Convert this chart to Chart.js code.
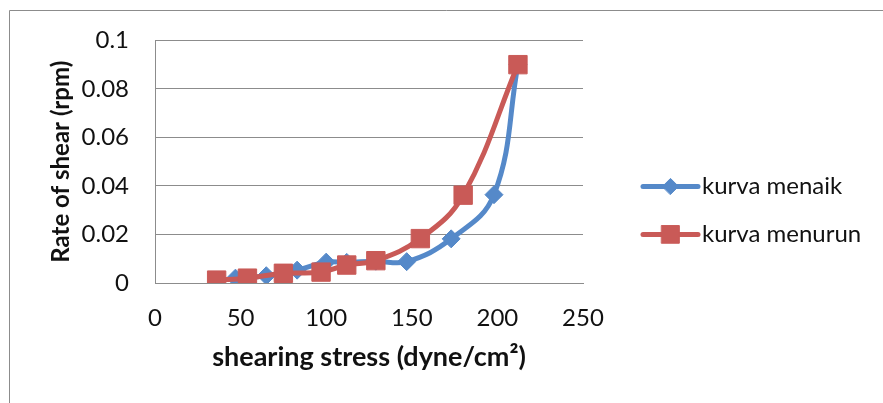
<!DOCTYPE html>
<html>
<head>
<meta charset="utf-8">
<title>Rate of shear vs shearing stress</title>
<script src="https://cdn.jsdelivr.net/npm/chart.js@4.4.1/dist/chart.umd.min.js"></script>
<style>
  html, body { margin: 0; padding: 0; background: #fff; }
  #wrap { width: 883px; height: 403px; }
</style>
</head>
<body>
<div id="wrap"><canvas id="chart" width="883" height="403"></canvas></div>
<script>
(function () {
  'use strict';

  // kurva menaik: shearing stress (dyne/cm2) and rate of shear (rpm)
  const STRESS_UP = [47, 65, 83, 100, 112, 129, 147, 173, 198, 212];
  const RATE_UP = [0.002, 0.003, 0.0053, 0.0086, 0.0085, 0.009, 0.0088, 0.0182, 0.0364, 0.09];

  // kurva menurun
  const STRESS_DOWN = [36, 54, 75, 97, 112, 129, 155, 180, 212];
  const RATE_DOWN = [0.0012, 0.002, 0.004, 0.0045, 0.0074, 0.0092, 0.0183, 0.0362, 0.09];

  const X_TICKS = [0, 50, 100, 150, 200, 250];
  const Y_TICKS = ['0', '0.02', '0.04', '0.06', '0.08', '0.1'];
  const SERIES_LABELS = ['kurva menaik', 'kurva menurun'];

  const BLUE = '#5589C9';
  const RED = '#C95A57';
  const AXIS_GREY = '#8c8c8c';
  const TEXT = '#111111';
  const FONT_FAMILY = 'Lato, "Open Sans", sans-serif';

  function toPoints(xs, ys) {
    return xs.map((x, i) => ({ x, y: ys[i] }));
  }

  // white page plus the left/top edge of the chart object frame
  const framePlugin = {
    id: 'frame',
    beforeDraw(chart) {
      const ctx = chart.ctx;
      ctx.save();
      ctx.fillStyle = '#ffffff';
      ctx.fillRect(0, 0, chart.width, chart.height);
      ctx.strokeStyle = AXIS_GREY;
      ctx.lineWidth = 1;
      ctx.beginPath();
      ctx.moveTo(9.5, chart.height);
      ctx.lineTo(9.5, 10.5);
      ctx.lineTo(chart.width, 10.5);
      ctx.stroke();
      ctx.restore();
    },
  };

  // legend on the right: short line with its marker, then the label
  const sideLegend = {
    id: 'sideLegend',
    afterDraw(chart) {
      const { ctx, chartArea } = chart;
      const x0 = chartArea.right + 60;
      const x1 = x0 + 55;
      chart.data.datasets.forEach((ds, row) => {
        const y = chartArea.top + 146 + row * 48;
        ctx.save();
        ctx.strokeStyle = ds.borderColor;
        ctx.lineWidth = ds.borderWidth;
        ctx.lineCap = 'round';
        ctx.beginPath();
        ctx.moveTo(x0, y);
        ctx.lineTo(x1, y);
        ctx.stroke();
        ctx.fillStyle = ds.pointBackgroundColor;
        ctx.strokeStyle = ds.pointBorderColor;
        ctx.lineWidth = 1;
        Chart.helpers.drawPoint(ctx, {
          pointStyle: ds.pointStyle,
          radius: ds.pointStyle === 'rect' ? 12.5 : 8,
          rotation: 0,
          borderWidth: 1,
        }, (x0 + x1) / 2, y);
        ctx.fillStyle = TEXT;
        ctx.font = '24px ' + FONT_FAMILY;
        ctx.textBaseline = 'middle';
        ctx.textAlign = 'left';
        ctx.fillText(ds.label, x1 + 4, y);
        ctx.restore();
      });
    },
  };

  const ctx = document.getElementById('chart').getContext('2d');
  new Chart(ctx, {
    type: 'line',
    data: {
      datasets: [
        {
          label: SERIES_LABELS[0],
          data: toPoints(STRESS_UP, RATE_UP),
          borderColor: BLUE,
          backgroundColor: BLUE,
          borderWidth: 5,
          tension: 0.4,
          pointStyle: 'rectRot',
          pointRadius: 9,
          pointBorderWidth: 1,
          pointBackgroundColor: BLUE,
          pointBorderColor: BLUE,
          order: 1,
        },
        {
          label: SERIES_LABELS[1],
          data: toPoints(STRESS_DOWN, RATE_DOWN),
          borderColor: RED,
          backgroundColor: RED,
          borderWidth: 5,
          tension: 0.4,
          pointStyle: 'rect',
          pointRadius: 13,
          pointBorderWidth: 1,
          pointBackgroundColor: RED,
          pointBorderColor: RED,
          order: 0,
        },
      ],
    },
    options: {
      responsive: false,
      animation: false,
      layout: { padding: { left: 10, right: 300, top: 40, bottom: 0 } },
      plugins: {
        legend: { display: false },
        tooltip: { enabled: false },
      },
      scales: {
        x: {
          type: 'linear',
          min: 0,
          max: 250,
          afterBuildTicks: (scale) => {
            scale.ticks = X_TICKS.map((v) => ({ value: v }));
          },
          afterFit: (scale) => {
            scale.height = 120;
          },
          ticks: {
            color: TEXT,
            padding: 21,
            font: { family: FONT_FAMILY, size: 24 },
            callback: (v) => String(v),
          },
          grid: { display: false, drawTicks: false },
          border: { color: AXIS_GREY, width: 1 },
          title: {
            display: true,
            text: 'shearing stress (dyne/cm²)',
            color: TEXT,
            font: { family: FONT_FAMILY, size: 27, weight: 'bold' },
            padding: { top: 0, bottom: 30 },
          },
        },
        y: {
          type: 'linear',
          min: 0,
          max: 0.1,
          afterBuildTicks: (scale) => {
            scale.ticks = Y_TICKS.map((t) => ({ value: parseFloat(t) }));
          },
          afterFit: (scale) => {
            scale.width = 145;
          },
          ticks: {
            color: TEXT,
            padding: 26,
            font: { family: FONT_FAMILY, size: 24 },
            callback: (v, i) => Y_TICKS[i],
          },
          grid: { color: AXIS_GREY, lineWidth: 1, drawTicks: false },
          border: { color: AXIS_GREY, width: 1 },
          title: {
            display: true,
            text: 'Rate of shear (rpm)',
            color: TEXT,
            font: { family: FONT_FAMILY, size: 24, weight: 'bold' },
            padding: { top: 37, bottom: 0 },
          },
        },
      },
    },
    plugins: [framePlugin, sideLegend],
  });
})();
</script>
</body>
</html>
